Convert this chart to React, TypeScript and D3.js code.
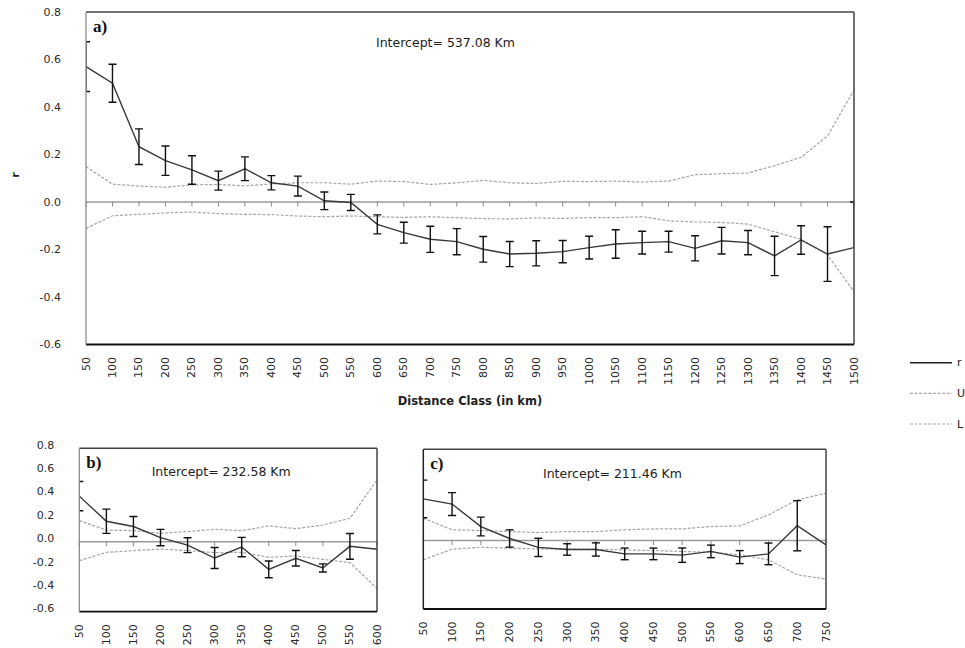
import React from "react";
import * as d3 from "d3";

// Distance classes (km) for each correlogram
const classesA = [50, 100, 150, 200, 250, 300, 350, 400, 450, 500, 550, 600, 650, 700, 750, 800, 850, 900, 950, 1000, 1050, 1100, 1150, 1200, 1250, 1300, 1350, 1400, 1450, 1500];
const classesB = [50, 100, 150, 200, 250, 300, 350, 400, 450, 500, 550, 600];
const classesC = [50, 100, 150, 200, 250, 300, 350, 400, 450, 500, 550, 600, 650, 700, 750];

// Panel a: correlation r, error bar extents, upper (U) and lower (L) null bounds
const rA = [0.57, 0.5, 0.233, 0.174, 0.135, 0.09, 0.14, 0.081, 0.067, 0.005, -0.002, -0.094, -0.129, -0.157, -0.167, -0.199, -0.219, -0.216, -0.209, -0.192, -0.177, -0.171, -0.167, -0.195, -0.163, -0.171, -0.227, -0.16, -0.219, -0.192];
const errPlusA = [0.105, 0.08, 0.075, 0.062, 0.06, 0.04, 0.05, 0.03, 0.042, 0.037, 0.034, 0.04, 0.044, 0.055, 0.055, 0.054, 0.053, 0.053, 0.047, 0.048, 0.06, 0.048, 0.044, 0.053, 0.056, 0.051, 0.083, 0.06, 0.115, 0.192];
const errMinusA = [0.105, 0.08, 0.075, 0.062, 0.06, 0.04, 0.05, 0.03, 0.042, 0.037, 0.034, 0.04, 0.044, 0.055, 0.055, 0.054, 0.053, 0.053, 0.047, 0.048, 0.06, 0.048, 0.044, 0.053, 0.056, 0.051, 0.083, 0.06, 0.115, 0];
const upperA = [0.149, 0.075, 0.067, 0.062, 0.072, 0.074, 0.068, 0.076, 0.081, 0.081, 0.075, 0.088, 0.086, 0.074, 0.081, 0.091, 0.081, 0.078, 0.087, 0.086, 0.088, 0.084, 0.088, 0.115, 0.119, 0.122, 0.153, 0.188, 0.278, 0.472];
const lowerA = [-0.111, -0.058, -0.052, -0.046, -0.042, -0.049, -0.052, -0.053, -0.059, -0.062, -0.059, -0.062, -0.065, -0.062, -0.066, -0.07, -0.071, -0.067, -0.069, -0.066, -0.066, -0.062, -0.079, -0.084, -0.086, -0.093, -0.125, -0.157, -0.223, -0.378];

// Panel b
const rB = [0.39, 0.175, 0.13, 0.035, -0.03, -0.14, -0.046, -0.237, -0.142, -0.225, -0.04, -0.065];
const errB = [0.125, 0.104, 0.086, 0.07, 0.064, 0.09, 0.083, 0.072, 0.066, 0.035, 0.11, 0];
const upperB = [0.18, 0.1, 0.094, 0.072, 0.086, 0.106, 0.094, 0.135, 0.111, 0.143, 0.2, 0.529];
const lowerB = [-0.163, -0.091, -0.077, -0.063, -0.077, -0.094, -0.091, -0.134, -0.123, -0.151, -0.18, -0.4];

// Panel c
const rC = [0.365, 0.32, 0.123, 0.018, -0.06, -0.078, -0.078, -0.117, -0.117, -0.128, -0.095, -0.145, -0.117, 0.13, -0.038];
const errC = [0.165, 0.1, 0.082, 0.076, 0.08, 0.05, 0.058, 0.051, 0.051, 0.063, 0.055, 0.057, 0.095, 0.22, 0];
const upperC = [0.196, 0.094, 0.088, 0.079, 0.07, 0.079, 0.079, 0.094, 0.102, 0.102, 0.123, 0.128, 0.225, 0.356, 0.415];
const lowerC = [-0.169, -0.076, -0.058, -0.067, -0.073, -0.073, -0.076, -0.082, -0.088, -0.096, -0.102, -0.125, -0.169, -0.3, -0.338];

const yTicks = [0.8, 0.6, 0.4, 0.2, 0.0, -0.2, -0.4, -0.6];
const legendItems = ["r", "U", "L"];

const SANS = "'DejaVu Sans', Verdana, sans-serif";
const SERIF = "'Liberation Serif', 'Times New Roman', serif";

type PanelProps = {
  id: string;
  classes: number[];
  r: number[];
  errPlus: number[];
  errMinus: number[];
  upper: number[];
  lower: number[];
  left: number;
  right: number;
  top: number;
  bottom: number;
  tag: string;
  intercept: string;
  interceptX: number;
  interceptY: number;
  showYAxis: boolean;
  yLabelShift: number;
  darkLeft: boolean;
};

function Panel(p: PanelProps) {
  const x = d3
    .scalePoint<number>()
    .domain(p.classes)
    .range([p.left, p.right])
    .padding(0);
  const y = d3.scaleLinear().domain([-0.6, 0.8]).range([p.bottom, p.top]);
  const line = d3
    .line<number>()
    .x((_, i) => x(p.classes[i]) as number)
    .y((d) => y(d));
  const clipId = `clip-${p.id}`;
  const y0 = y(0);
  const cap = 4;

  return (
    <g>
      <defs>
        <clipPath id={clipId}>
          <rect x={p.left} y={p.top} width={p.right - p.left} height={p.bottom - p.top} />
        </clipPath>
      </defs>

      {/* zero line with category ticks */}
      <line x1={p.left} x2={p.right} y1={y0} y2={y0} stroke="#9a9a9a" strokeWidth={1.5} />
      {p.classes.map((c) => (
        <line key={`t${c}`} x1={x(c)} x2={x(c)} y1={y0} y2={y0 + 4.5} stroke="#8a8a8a" strokeWidth={1} />
      ))}

      <g clipPath={`url(#${clipId})`}>
        <path d={line(p.upper) || ""} fill="none" stroke="#a6a6a6" strokeWidth={1.2} strokeDasharray="3 1.6" />
        <path d={line(p.lower) || ""} fill="none" stroke="#a6a6a6" strokeWidth={1.2} strokeDasharray="3 1.6" />
        <path d={line(p.r) || ""} fill="none" stroke="#3a3a3a" strokeWidth={1.4} />
        {p.r.map((v, i) => {
          const cx = x(p.classes[i]) as number;
          const hi = v + p.errPlus[i];
          const lo = v - p.errMinus[i];
          if (p.errPlus[i] === 0 && p.errMinus[i] === 0) return null;
          return (
            <g key={`e${i}`} stroke="#111" strokeWidth={1.4}>
              <line x1={cx} x2={cx} y1={y(hi)} y2={y(lo)} />
              {p.errPlus[i] > 0 && <line x1={cx - cap} x2={cx + cap} y1={y(hi)} y2={y(hi)} />}
              {p.errMinus[i] > 0 && <line x1={cx - cap} x2={cx + cap} y1={y(lo)} y2={y(lo)} />}
            </g>
          );
        })}
      </g>

      {/* plot frame */}
      <line x1={p.left} x2={p.right} y1={p.top} y2={p.top} stroke="#444" strokeWidth={1.5} />
      <line x1={p.right} x2={p.right} y1={p.top} y2={p.bottom} stroke="#444" strokeWidth={1.5} />
      <line x1={p.left} x2={p.right} y1={p.bottom} y2={p.bottom} stroke="#111" strokeWidth={1.8} />
      <line x1={p.left} x2={p.left} y1={p.top} y2={p.bottom} stroke={p.darkLeft ? "#222" : "#8a8a8a"} strokeWidth={p.darkLeft ? 1.5 : 1.3} />

      {/* y tick labels */}
      {p.showYAxis &&
        yTicks.map((t) => (
          <text
            key={`y${t}`}
            x={p.left - 25}
            y={y(t) + p.yLabelShift}
            textAnchor="end"
            dominantBaseline="central"
            fontFamily={SANS}
            fontSize={11}
            fill="#2a2a2a"
          >
            {t.toFixed(1)}
          </text>
        ))}

      {/* x tick labels */}
      {p.classes.map((c) => (
        <text
          key={`x${c}`}
          transform={`translate(${x(c)},${p.bottom + 12.5}) rotate(-90)`}
          textAnchor="end"
          dominantBaseline="central"
          fontFamily={SANS}
          fontSize={11}
          fill="#2a2a2a"
        >
          {c}
        </text>
      ))}

      <text x={p.left + 7} y={p.top + 20} fontFamily={SERIF} fontWeight="bold" fontSize={17} fill="#111">
        {p.tag}
      </text>
      <text
        x={p.interceptX}
        y={p.interceptY}
        dominantBaseline="central"
        fontFamily={SANS}
        fontSize={12.5}
        fill="#222"
      >
        {p.intercept}
      </text>
    </g>
  );
}

export default function App() {
  const legendY = d3.scalePoint<string>().domain(legendItems).range([362.7, 424]);
  return (
    <svg
      width={965}
      height={648}
      viewBox="0 0 965 648"
      style={{ position: "absolute", left: 0, top: 0, background: "#fff" }}
    >
      <rect width={965} height={648} fill="#fff" />

      <Panel
        id="a"
        classes={classesA}
        r={rA}
        errPlus={errPlusA}
        errMinus={errMinusA}
        upper={upperA}
        lower={lowerA}
        left={86}
        right={854}
        top={12}
        bottom={344.5}
        tag="a)"
        intercept="Intercept= 537.08 Km"
        interceptX={376}
        interceptY={42}
        showYAxis={true}
        yLabelShift={0}
        darkLeft={false}
      />
      <Panel
        id="b"
        classes={classesB}
        r={rB}
        errPlus={errB}
        errMinus={errB}
        upper={upperB}
        lower={lowerB}
        left={79.3}
        right={377}
        top={448.3}
        bottom={611.7}
        tag="b)"
        intercept="Intercept= 232.58 Km"
        interceptX={151.7}
        interceptY={471.7}
        showYAxis={true}
        yLabelShift={-3}
        darkLeft={false}
      />
      <Panel
        id="c"
        classes={classesC}
        r={rC}
        errPlus={errC}
        errMinus={errC}
        upper={upperC}
        lower={lowerC}
        left={423.3}
        right={826}
        top={449.3}
        bottom={609}
        tag="c)"
        intercept="Intercept= 211.46 Km"
        interceptX={543}
        interceptY={473.3}
        showYAxis={false}
        yLabelShift={0}
        darkLeft={true}
      />

      {/* axis titles for panel a */}
      <text
        transform="translate(15,175) rotate(-90)"
        textAnchor="middle"
        dominantBaseline="central"
        fontFamily={SANS}
        fontWeight="bold"
        fontSize={11}
        fill="#222"
      >
        r
      </text>
      <text x={470} y={405} textAnchor="middle" fontFamily={SANS} fontWeight="bold" fontSize={11.5} fill="#222">
        Distance Class (in km)
      </text>

      {/* legend */}
      {legendItems.map((k) => {
        const ly = legendY(k) as number;
        const solid = k === "r";
        return (
          <g key={`lg${k}`}>
            <line
              x1={910}
              x2={952}
              y1={ly}
              y2={ly}
              stroke={solid ? "#222" : "#a6a6a6"}
              strokeWidth={solid ? 1.4 : 1.2}
              strokeDasharray={solid ? undefined : "3 1.6"}
            />
            <text x={957} y={ly} dominantBaseline="central" fontFamily={SANS} fontSize={11} fill="#222">
              {k}
            </text>
          </g>
        );
      })}
    </svg>
  );
}
